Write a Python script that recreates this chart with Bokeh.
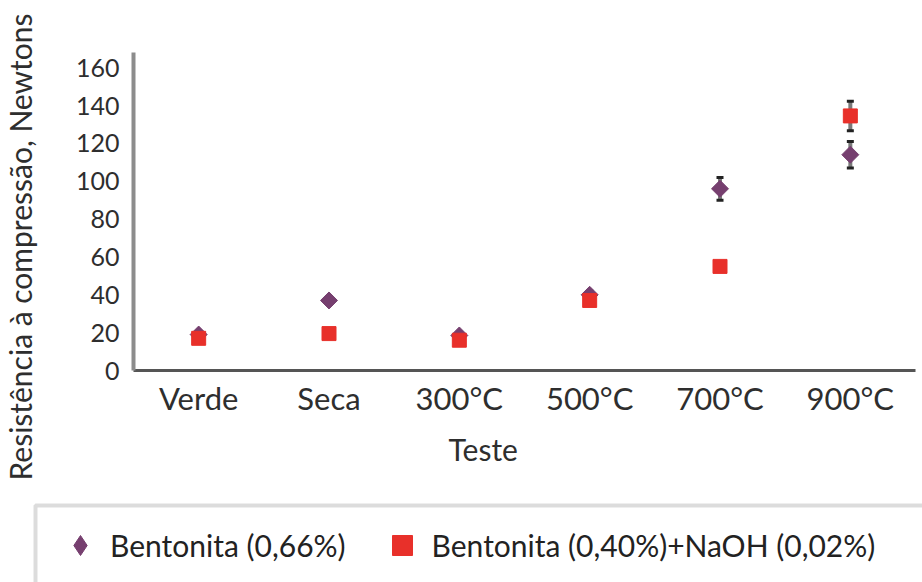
import numpy as np
from bokeh.plotting import figure
from bokeh.models import (ColumnDataSource, Range1d, FactorRange, FixedTicker, Whisker,
                          TeeHead, Title, Legend, LegendItem, BoxAnnotation)
from bokeh.layouts import column, row
from bokeh.embed import file_html
from bokeh.resources import INLINE

# ---- data ----
categories = ["Verde", "Seca", "300°C", "500°C", "700°C", "900°C"]
bent_066 = [19, 37, 18.5, 40, 96, 114]
bent_066_err = [1, 2, 1, 2, 6, 7]
bent_naoh = [17, 19.5, 16, 37, 55, 134.5]
bent_naoh_err = [1, 1, 1, 1.5, 2, 7.8]
y_ticks = [0, 20, 40, 60, 80, 100, 120, 140, 160]
series_names = ["Bentonita (0,66%)", "Bentonita (0,40%)+NaOH (0,02%)"]
y_title = "Resistência à compressão, Newtons"
x_title = "Teste"

PURPLE = "#763f6f"
RED = "#e8302a"
FONT = "Lato"
TXT = "#2e2e2e"

src1 = ColumnDataSource(dict(x=categories, y=bent_066,
                             lo=[v - e for v, e in zip(bent_066, bent_066_err)],
                             hi=[v + e for v, e in zip(bent_066, bent_066_err)]))
src2 = ColumnDataSource(dict(x=categories, y=bent_naoh,
                             lo=[v - e for v, e in zip(bent_naoh, bent_naoh_err)],
                             hi=[v + e for v, e in zip(bent_naoh, bent_naoh_err)]))

xr = FactorRange(*categories, range_padding=0)
p = figure(width=922, height=500, x_range=xr,
           y_range=Range1d(0, 168), output_backend="svg", toolbar_location=None,
           min_border_left=133, min_border_right=7, min_border_top=52, min_border_bottom=130)
p.outline_line_color = None
p.xgrid.grid_line_color = None
p.ygrid.grid_line_color = None

for src in (src1, src2):
    w = Whisker(source=src, base="x", upper="hi", lower="lo",
                line_color="#7a7a7a", line_width=4,
                upper_head=TeeHead(size=7, line_color="#222222", line_width=3),
                lower_head=TeeHead(size=7, line_color="#222222", line_width=3))
    p.add_layout(w)

p.scatter("x", "y", source=src1, marker="square", angle=np.pi / 4, size=12,
          fill_color=PURPLE, line_color=PURPLE)
p.scatter("x", "y", source=src2, marker="square", size=14,
          fill_color=RED, line_color=RED)

p.yaxis.ticker = FixedTicker(ticks=y_ticks)
p.yaxis.axis_line_color = "#8c8c8c"
p.yaxis.axis_line_width = 4
p.yaxis.major_tick_line_color = None
p.yaxis.minor_tick_line_color = None
p.yaxis.major_label_standoff = 8
p.yaxis.major_label_text_font = FONT
p.yaxis.major_label_text_font_size = "25px"
p.yaxis.major_label_text_color = TXT

p.xaxis.axis_line_color = "#555555"
p.xaxis.axis_line_width = 3
p.xaxis.major_tick_line_color = None
p.xaxis.minor_tick_line_color = None
p.xaxis.major_label_standoff = 2
p.xaxis.major_label_text_font = FONT
p.xaxis.major_label_text_font_size = "31px"
p.xaxis.major_label_text_color = TXT

p.add_layout(Title(text=y_title, align="left", offset=-110, standoff=10,
                   padding=dict(left=0, right=0, top=0, bottom=30),
                   text_font=FONT, text_font_size="30px", text_font_style="normal",
                   text_color=TXT), "left")
p.add_layout(Title(text=x_title, align="left", offset=315, standoff=18,
                   text_font=FONT, text_font_size="30px", text_font_style="normal",
                   text_color=TXT), "below")

# ---- legend strip ----
q = figure(width=922, height=82, x_range=xr, y_range=Range1d(0, 1),
           output_backend="svg", toolbar_location=None, x_axis_type=None, y_axis_type=None,
           min_border=0)
q.outline_line_color = None
q.xgrid.grid_line_color = None
q.ygrid.grid_line_color = None
q.add_layout(BoxAnnotation(left=35, right=2000, bottom=-200, top=77,
                           left_units="screen", right_units="screen",
                           bottom_units="screen", top_units="screen",
                           fill_color=None, line_color="#8c8c8c", line_width=4))
r1 = q.scatter("x", "y", source=src1, marker="diamond", size=17,
               fill_color=PURPLE, line_color=PURPLE, visible=False)
r2 = q.scatter("x", "y", source=src2, marker="square", size=14,
               fill_color=RED, line_color=RED, visible=False)
legend = Legend(items=[LegendItem(label=series_names[0], renderers=[r1]),
                       LegendItem(label=series_names[1], renderers=[r2])],
                orientation="horizontal", location=(50, 12), margin=0, padding=0,
                spacing=26, glyph_width=60, glyph_height=50, label_standoff=0,
                border_line_color=None, background_fill_alpha=0,
                label_text_font=FONT, label_text_font_size="30px",
                label_text_color="#222222")
q.add_layout(legend)

open("out.html", "w").write(file_html(column(p, row(q)), INLINE))
